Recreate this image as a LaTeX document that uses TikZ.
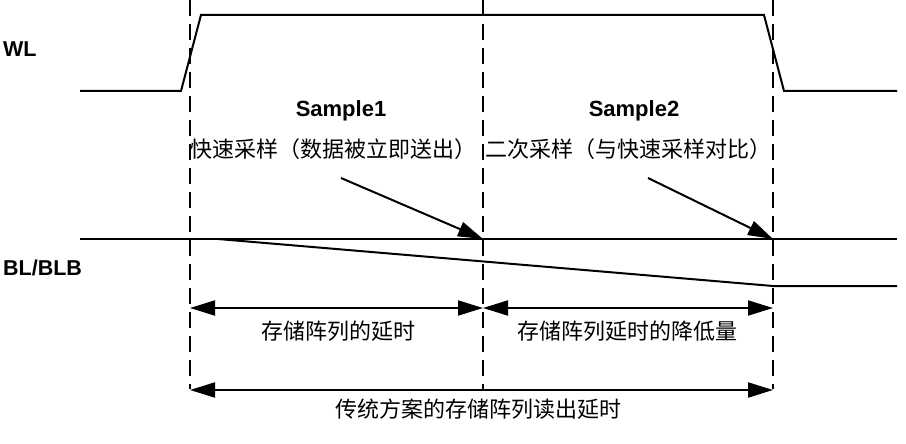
\documentclass[tikz,border=0pt]{standalone}
\usepackage{fontspec}
\setmainfont{Liberation Sans}
\newfontfamily\cjk{Noto Sans CJK SC}
\usetikzlibrary{arrows.meta}
\tikzstyle{sig}=[line width=2pt,line join=miter]
\tikzstyle{guide}=[line width=2pt,dash pattern=on 16pt off 8pt]
\tikzstyle{lbl}=[font=\bfseries\fontsize{21.5}{22}\selectfont,inner sep=0pt,anchor=base west]
\tikzstyle{samp}=[font=\bfseries\fontsize{22}{22}\selectfont,inner sep=0pt,anchor=base]
\tikzstyle{note}=[font=\cjk\fontsize{22}{22}\selectfont,inner sep=0pt]
\tikzstyle{ptr}=[-{Triangle[length=25pt,width=15pt]},line width=2pt]
\tikzstyle{dim}=[{Triangle[length=25pt,width=15pt]}-{Triangle[length=25pt,width=15pt]},line width=2pt]

\begin{document}
\begin{tikzpicture}[x=1pt,y=-1pt]
  \useasboundingbox (0,0) rectangle (906,444);
  % time marks
  \foreach \n/\x in {a/190, b/483, c/773}
    {\coordinate (top-\n) at (\x,0);
     \coordinate (bot-\n) at (\x,389);
     \coordinate (dim-\n) at (\x,308);
     \coordinate (low-\n) at (\x,390);
     \draw[guide] (top-\n) -- (bot-\n);}
  % word line
  \node[lbl] (wl) at (3,57) {WL};
  \draw[sig] (80,91) -- (181,91) -- (201,15) -- (764,15) -- (784,91) -- (897,91);
  % bit lines
  \node[lbl] (bl) at (3,275) {BL/BLB};
  \coordinate (hit1) at (483,239);
  \coordinate (hit2) at (773,239);
  \coordinate (drop) at (773,286);
  \draw[sig] (80,239) -- (897,239);
  \draw[sig] (218,239) -- (drop) -- (897,286);
  % samples
  \node[samp] (smp1) at (341,117) {Sample1};
  \node[note] (fast) at (333,149) {快速采样（数据被立即送出）};
  \node[samp] (smp2) at (634,117) {Sample2};
  \node[note] (again) at (628,149) {二次采样（与快速采样对比）};
  \coordinate (p1) at (341,178);
  \coordinate (p2) at (648,178);
  \draw[ptr] (p1) -- (hit1);
  \draw[ptr] (p2) -- (hit2);
  % delays
  \draw[dim] (dim-a) -- (dim-b);
  \draw[dim] (dim-b) -- (dim-c);
  \draw[dim] (low-a) -- (low-c);
  \node[note] (dly) at (338,331) {存储阵列的延时};
  \node[note] (gain) at (627,331) {存储阵列延时的降低量};
  \node[note] (full) at (478,409) {传统方案的存储阵列读出延时};
\end{tikzpicture}
\end{document}
